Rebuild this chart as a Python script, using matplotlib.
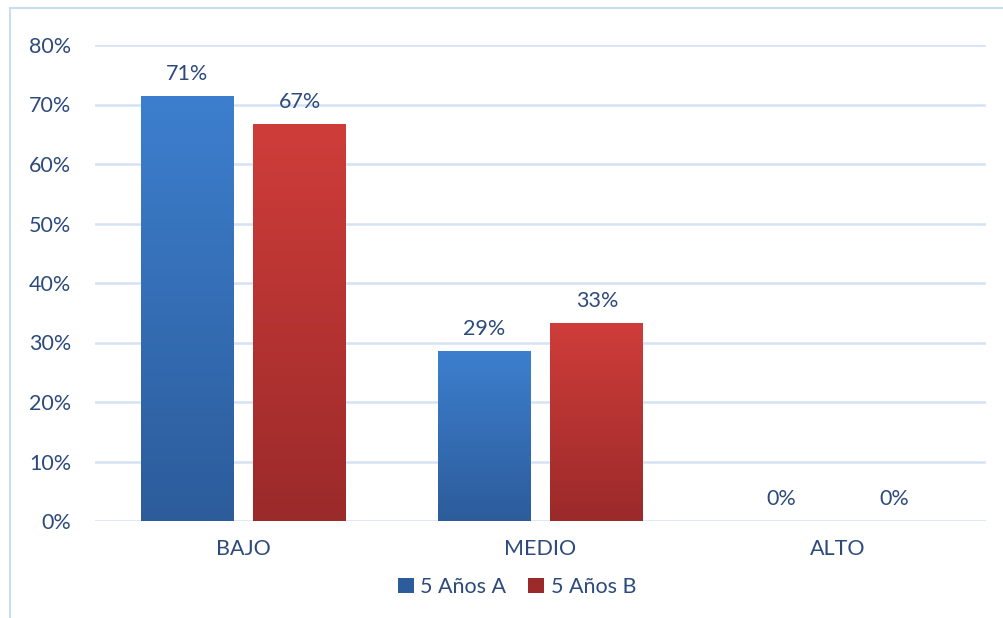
import matplotlib
matplotlib.use("Agg")
import matplotlib.pyplot as plt
import numpy as np
from matplotlib.colors import LinearSegmentedColormap
from matplotlib.patches import Rectangle

categories = ["BAJO", "MEDIO", "ALTO"]
series_names = ["5 Años A", "5 Años B"]
values_a = [71.43, 28.57, 0.0]
values_b = [66.67, 33.33, 0.0]
labels_a = ["71%", "29%", "0%"]
labels_b = ["67%", "33%", "0%"]
yticks = [0, 10, 20, 30, 40, 50, 60, 70, 80]

text_color = "#2c4a7c"
grid_color = "#d5e3f3"
blue_top, blue_bot = "#3d7fce", "#2c5c9b"
red_top, red_bot = "#cf3d3a", "#9b2a2a"

plt.rcParams['font.family'] = ['Lato', 'DejaVu Sans']
FS = 15.5

fig = plt.figure(figsize=(10.04, 6.18), dpi=100)
fig.patches.append(Rectangle((10/1004, -0.1), 1.2, (618-8)/618 + 0.1, transform=fig.transFigure,
                             fill=False, edgecolor="#c9dcf0", linewidth=1.5))
ax = fig.add_axes([95/1004, 1 - 521/618, 891/1004, (521-45)/618])

x = np.arange(len(categories))
w = 0.313
off = 0.19

def grad_bars(xs, vals, top, bot, label):
    bars = ax.bar(xs, vals, w, color=bot, label=label, zorder=3, linewidth=0)
    cmap = LinearSegmentedColormap.from_list("g", [bot, top])
    grad = np.linspace(0, 1, 256).reshape(-1, 1)
    for b in bars:
        h = b.get_height()
        if h <= 0:
            continue
        x0 = b.get_x()
        im = ax.imshow(grad, extent=[x0, x0 + b.get_width(), 0, h], origin="lower",
                       cmap=cmap, aspect="auto", zorder=4, interpolation="bilinear")
        im.set_clip_path(b)
    return bars

ba = grad_bars(x - off, values_a, blue_top, blue_bot, series_names[0])
bb = grad_bars(x + off, values_b, red_top, red_bot, series_names[1])
ax.set_xlim(-0.5, 2.5)
ax.set_ylim(0, 80)

for xi, v, t in zip(x - off, values_a, labels_a):
    ax.text(xi, v + 2.0, t, ha="center", va="bottom", color=text_color, fontsize=FS, zorder=5)
for xi, v, t in zip(x + off, values_b, labels_b):
    ax.text(xi, v + 2.0, t, ha="center", va="bottom", color=text_color, fontsize=FS, zorder=5)

ax.set_yticks(yticks)
ax.set_yticklabels([f"{t}%" for t in yticks])
ax.set_xticks(x)
ax.set_xticklabels(categories)
ax.tick_params(axis="both", length=0, labelsize=FS, labelcolor=text_color)
ax.tick_params(axis="y", pad=17)
ax.tick_params(axis="x", pad=13)
ax.yaxis.grid(True, color=grid_color, linewidth=1.8, zorder=0)
ax.set_axisbelow(True)
for s in ax.spines.values():
    s.set_visible(False)

leg = fig.legend(handles=[ba, bb], labels=series_names, loc="center", bbox_to_anchor=(517/1004, 1 - 587/618),
                 ncol=2, frameon=False, fontsize=FS, handlelength=0.75, handleheight=0.75,
                 handletextpad=0.3, columnspacing=1.0)
for t in leg.get_texts():
    t.set_color(text_color)
leg.legend_handles[0].set_color(blue_bot)
leg.legend_handles[1].set_color(red_bot)

fig.savefig("out.png", dpi=100)
